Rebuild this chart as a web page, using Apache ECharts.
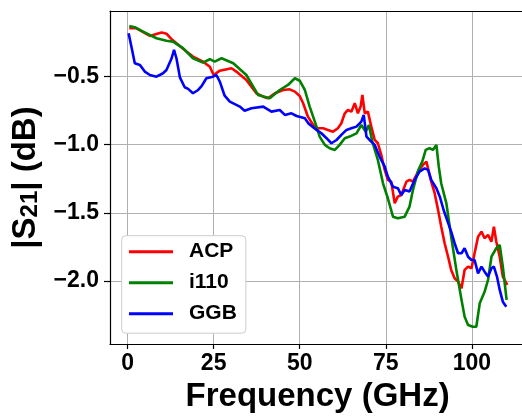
<!DOCTYPE html>
<html><head><meta charset="utf-8">
<script src="https://cdn.jsdelivr.net/npm/echarts@6/dist/echarts.min.js"></script>
<style>html,body{margin:0;padding:0;background:#fff}#c{width:522px;height:416px}</style>
</head><body><div id="c"></div>
<script>
const seriesNames = ['ACP', 'i110', 'GGB'];
const xTicks = [0, 25, 50, 75, 100];
const yTicks = [-2.0, -1.5, -1.0, -0.5];

const acpFreq = [0.5, 2.6, 6.5, 7.4, 9.9, 11.3, 12.8, 14.2, 17.1, 19.0, 21.9, 23.9, 25.0, 26.8, 30.2, 31.6, 34.5, 37.4, 39.4, 40.8, 42.8, 45.2, 47.1, 48.6, 50.0, 51.0, 52.4, 53.9, 55.3, 56.8, 58.2, 59.7, 61.1, 62.1, 63.1, 64.0, 65.0, 66.0, 66.9, 67.7, 68.2, 68.9, 69.8, 70.8, 71.8, 72.7, 73.7, 74.7, 75.6, 76.6, 77.6, 78.5, 79.5, 81.0, 81.9, 82.9, 84.4, 85.8, 86.8, 87.5, 88.2, 89.2, 90.2, 91.1, 92.1, 93.1, 94.0, 95.0, 96.0, 97.0, 97.9, 98.9, 99.9, 100.8, 101.8, 102.8, 103.7, 104.7, 105.7, 106.4, 107.1, 108.1, 109.0, 110.3];
const acpS21 = [-0.145, -0.145, -0.201, -0.194, -0.175, -0.185, -0.225, -0.255, -0.316, -0.353, -0.390, -0.427, -0.488, -0.456, -0.438, -0.463, -0.524, -0.622, -0.647, -0.659, -0.622, -0.598, -0.593, -0.610, -0.642, -0.695, -0.794, -0.855, -0.879, -0.879, -0.891, -0.904, -0.879, -0.842, -0.769, -0.745, -0.757, -0.695, -0.769, -0.720, -0.634, -0.769, -0.757, -0.867, -0.965, -0.989, -1.075, -1.185, -1.258, -1.271, -1.430, -1.381, -1.369, -1.271, -1.258, -1.271, -1.197, -1.148, -1.124, -1.197, -1.271, -1.356, -1.480, -1.601, -1.723, -1.822, -1.919, -1.980, -2.005, -2.054, -1.919, -1.895, -1.907, -1.797, -1.675, -1.638, -1.687, -1.662, -1.711, -1.601, -1.711, -1.822, -1.968, -2.029];

const i110Freq = [0.5, 2.1, 4.5, 8.4, 11.3, 13.2, 16.1, 19.0, 21.9, 23.9, 25.3, 27.3, 30.7, 34.5, 37.9, 41.3, 44.2, 46.6, 48.6, 50.0, 51.5, 52.9, 54.4, 55.8, 57.3, 58.7, 60.2, 61.6, 63.1, 64.5, 66.5, 67.9, 69.2, 70.1, 71.1, 72.7, 74.2, 75.6, 77.1, 78.5, 80.5, 81.9, 82.9, 84.4, 85.6, 86.6, 87.7, 88.7, 89.7, 90.4, 91.1, 92.6, 94.0, 95.5, 97.0, 97.9, 98.9, 100.3, 101.3, 102.3, 103.7, 104.7, 105.7, 107.1, 108.1, 109.0, 110.1];
const i110S21 = [-0.128, -0.137, -0.170, -0.218, -0.236, -0.243, -0.291, -0.365, -0.397, -0.372, -0.390, -0.365, -0.402, -0.488, -0.634, -0.659, -0.598, -0.561, -0.512, -0.530, -0.598, -0.720, -0.830, -0.940, -1.001, -1.026, -1.038, -1.001, -0.952, -0.940, -0.916, -0.855, -0.904, -0.855, -0.977, -1.112, -1.283, -1.393, -1.528, -1.540, -1.528, -1.454, -1.332, -1.190, -1.124, -1.038, -1.026, -1.038, -1.001, -1.161, -1.283, -1.430, -1.675, -1.919, -2.139, -2.262, -2.323, -2.336, -2.336, -2.164, -2.080, -1.993, -1.822, -1.760, -1.736, -1.895, -2.139];

const ggbFreq = [0.3, 1.2, 2.1, 3.6, 5.0, 6.5, 8.4, 10.3, 11.3, 12.8, 13.5, 14.2, 15.2, 16.6, 17.6, 19.0, 20.5, 21.5, 22.9, 24.8, 25.8, 26.8, 28.2, 29.7, 32.6, 34.0, 36.0, 39.4, 41.8, 44.2, 45.7, 47.6, 49.1, 51.5, 52.6, 54.9, 56.3, 57.8, 59.2, 60.7, 62.1, 63.6, 65.0, 66.5, 67.9, 68.6, 69.4, 70.3, 71.8, 73.2, 74.7, 75.6, 77.1, 78.5, 79.5, 80.5, 81.9, 83.4, 84.8, 86.3, 87.3, 88.2, 89.7, 90.7, 91.8, 92.8, 94.0, 95.0, 96.0, 97.0, 97.9, 98.9, 99.9, 100.8, 101.8, 102.8, 103.7, 104.7, 105.7, 106.4, 107.3, 108.1, 109.0, 110.0];
const ggbS21 = [-0.181, -0.290, -0.402, -0.414, -0.463, -0.488, -0.500, -0.475, -0.451, -0.365, -0.304, -0.365, -0.505, -0.578, -0.590, -0.622, -0.598, -0.570, -0.512, -0.500, -0.488, -0.537, -0.640, -0.684, -0.720, -0.750, -0.732, -0.720, -0.757, -0.745, -0.781, -0.769, -0.789, -0.805, -0.845, -0.891, -0.916, -0.952, -0.989, -0.965, -0.928, -0.891, -0.879, -0.867, -0.830, -0.781, -0.940, -0.965, -1.001, -1.087, -1.161, -1.234, -1.308, -1.319, -1.369, -1.332, -1.344, -1.258, -1.197, -1.173, -1.185, -1.258, -1.319, -1.381, -1.479, -1.552, -1.638, -1.723, -1.797, -1.797, -1.760, -1.822, -1.846, -1.846, -1.944, -1.895, -1.932, -1.968, -1.907, -1.895, -1.968, -2.066, -2.152, -2.189];

const colors = ['#ff0000', '#008000', '#0000ff'];
const FONT = '"Liberation Sans", Arial, sans-serif';

function pairs(xs, ys) { return xs.map((x, i) => [x, ys[i]]); }
const seriesData = [pairs(acpFreq, acpS21), pairs(i110Freq, i110S21), pairs(ggbFreq, ggbS21)];

const chart = echarts.init(document.getElementById('c'), null, { renderer: 'canvas' });
const fmtY = v => (v < 0 ? '\u2212' : '') + Math.abs(v).toFixed(1);

chart.setOption({
  animation: false,
  backgroundColor: '#fff',
  grid: { left: 110, right: -3.2, top: 11, bottom: 72, outerBoundsMode: 'none', containLabel: false },
  xAxis: [{
    type: 'value', min: -5.1, max: 115.5, position: 'bottom',
    axisLine: { show: true, onZero: false, lineStyle: { color: '#000', width: 1.2 } },
    axisTick: { show: true, inside: false, length: 5, customValues: xTicks, lineStyle: { color: '#000', width: 1.2 } },
    axisLabel: { customValues: xTicks, fontSize: 23, fontWeight: 'bold', color: '#000', margin: 8, fontFamily: FONT },
    splitLine: { show: true, lineStyle: { color: '#b0b0b0', width: 1 } },
    name: 'Frequency (GHz)', nameLocation: 'middle', nameGap: 36,
    nameTextStyle: { fontSize: 33, fontWeight: 'bold', color: '#000', fontFamily: FONT }
  }, {
    type: 'value', min: -5.1, max: 115.5, position: 'top',
    axisLine: { show: true, onZero: false, lineStyle: { color: '#000', width: 1.2 } },
    axisTick: { show: false }, axisLabel: { show: false }, splitLine: { show: false }
  }],
  yAxis: [{
    type: 'value', min: -2.463, max: -0.018, position: 'left',
    axisLine: { show: true, onZero: false, lineStyle: { color: '#000', width: 1.2 } },
    axisTick: { show: true, inside: false, length: 6, customValues: yTicks, lineStyle: { color: '#000', width: 1.2 } },
    axisLabel: { customValues: yTicks, formatter: fmtY, fontSize: 23, fontWeight: 'bold', color: '#000', margin: 11, fontFamily: FONT },
    splitLine: { show: true, lineStyle: { color: '#b0b0b0', width: 1 } },
    name: '{a||S}{b|21}{a|| (dB)}', nameLocation: 'middle', nameRotate: 90, nameGap: 66,
    nameTextStyle: {
      color: '#000', fontFamily: FONT, fontWeight: 'bold', fontSize: 33,
      rich: {
        a: { fontSize: 33, fontWeight: 'bold', color: '#000', fontFamily: FONT },
        b: { fontSize: 24, fontWeight: 'bold', color: '#000', fontFamily: FONT, padding: [10, 0, 0, 0] }
      }
    }
  }],
  legend: {
    orient: 'vertical', left: 121.7, top: 235.7,
    data: seriesNames,
    icon: 'rect', itemWidth: 44, itemHeight: 3, itemGap: 10,
    padding: [5.5, 9, 9, 7.3],
    backgroundColor: '#fff', borderColor: '#cccccc', borderWidth: 1, borderRadius: 4,
    textStyle: { fontSize: 21, fontWeight: 'bold', color: '#000', fontFamily: FONT, lineHeight: 21, padding: [0, 0, 0, 11] }
  },
  series: seriesNames.map((n, i) => ({
    name: n, type: 'line', xAxisIndex: 0, yAxisIndex: 0,
    data: seriesData[i], showSymbol: false, symbol: 'none',
    lineStyle: { color: colors[i], width: 2.6 }, itemStyle: { color: colors[i] },
    emphasis: { disabled: true }
  }))
});
</script></body></html>
